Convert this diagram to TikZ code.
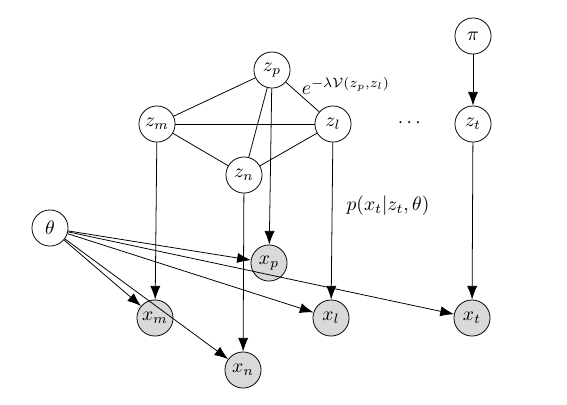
\documentclass[tikz,border=0pt]{standalone}
\usepackage{amsmath}
\usepackage{amssymb}
\usetikzlibrary{arrows.meta}

\begin{document}
\begin{tikzpicture}[x=0.018cm, y=-0.018cm,
		latent/.style={circle, draw, thin, fill=white, minimum size=0.65cm, inner sep=0pt},
		obs/.style={latent, fill=gray!30},
		edge/.style={-{Latex[length=7pt,width=5.2pt]}, thin}]
		\useasboundingbox (0,0) rectangle (567,404);
		% latent variables
		\node[latent] (zp) at (272,70) {$z_p$};
		\node[latent] (zm) at (157,124) {$z_m$};
		\node[latent] (zl) at (333,124) {$z_l$};
		\node[latent] (zn) at (244,175) {$z_n$};
		\node[latent] (pi) at (473,36) {$\pi$};
		\node[latent] (zt) at (473,124) {$z_t$};
		\node[latent] (theta) at (50,228) {$\theta$};
		% observations
		\node[obs] (xp) at (269,263) {$x_p$};
		\node[obs] (xm) at (155,318) {$x_m$};
		\node[obs] (xl) at (331,318) {$x_l$};
		\node[obs] (xt) at (472,318) {$x_t$};
		\node[obs] (xn) at (243,370) {$x_n$};
		% labels
		\node (dots) at (411,123) {$\cdots$};
		\node (pot) at (346,86) {$e^{-\lambda\mathcal{V}(z_p,z_l)}$};
		\node (lik) at (388,206) {$p(x_t|z_t,\theta)$};
		% MRF edges
		\draw[thin] (zp) -- (zm);
		\draw[thin] (zp) -- (zl);
		\draw[thin] (zp) -- (zn);
		\draw[thin] (zm) -- (zl);
		\draw[thin] (zm) -- (zn);
		\draw[thin] (zn) -- (zl);
		% emissions
		\draw[edge] (zp) -- (xp);
		\draw[edge] (zm) -- (xm);
		\draw[edge] (zn) -- (xn);
		\draw[edge] (zl) -- (xl);
		\draw[edge] (pi) -- (zt);
		\draw[edge] (zt) -- (xt);
		\foreach \x in {xp,xm,xn,xl,xt}
			\draw[edge] (theta) -- (\x);
	\end{tikzpicture}
\end{document}
